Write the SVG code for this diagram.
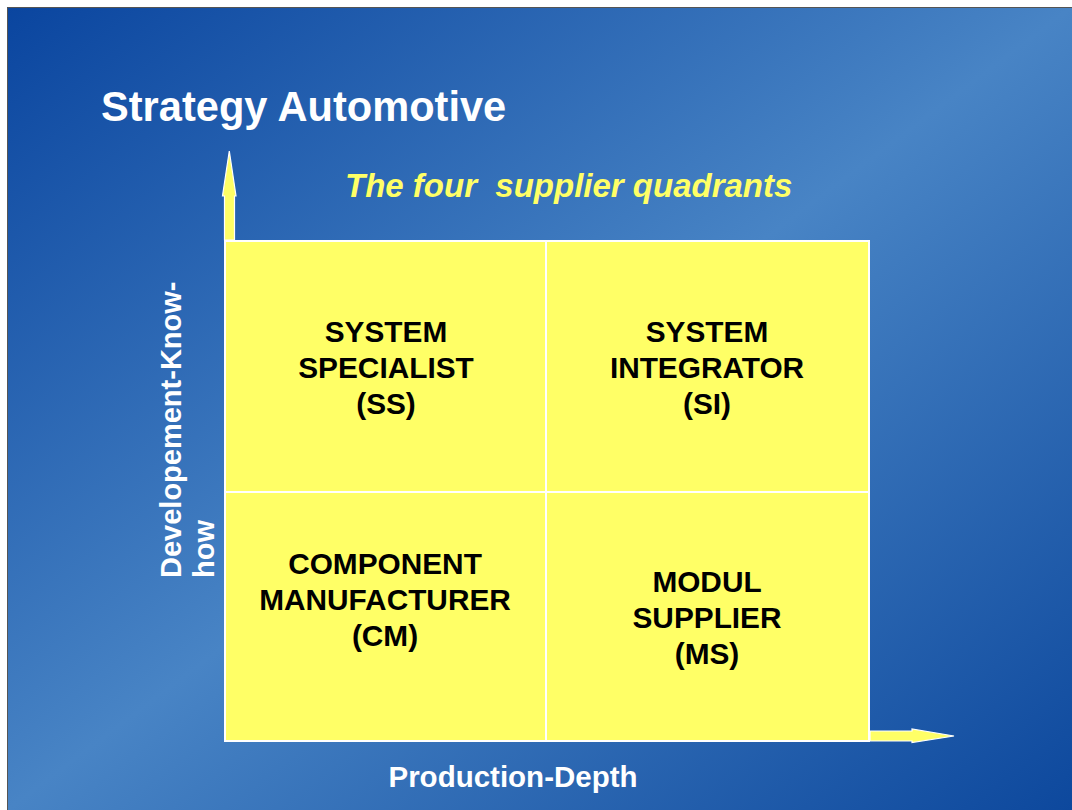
<svg xmlns="http://www.w3.org/2000/svg" width="1072" height="810" viewBox="0 0 1072 810">
  <defs>
    <linearGradient id="bg" x1="0" y1="0" x2="1" y2="1">
      <stop offset="0" stop-color="#0a459f"/>
      <stop offset="0.5" stop-color="#4884c5"/>
      <stop offset="1" stop-color="#0d489d"/>
    </linearGradient>
    <style>
      .quad { fill: #ffff66; stroke: #ffffff; stroke-width: 2; }
      .arrow { fill: #ffff66; stroke: #ffffff; stroke-width: 1.2; stroke-linejoin: miter; }
      .lbl { font-family: "Liberation Sans", Arial, sans-serif; font-weight: bold; font-size: 29.8px; fill: #000000; text-anchor: middle; }
      .axis { font-family: "Liberation Sans", Arial, sans-serif; font-weight: bold; font-size: 29px; fill: #ffffff; }
      .title { font-family: "Liberation Sans", Arial, sans-serif; font-weight: bold; font-size: 41.6px; fill: #ffffff; }
      .sub { font-family: "Liberation Sans", Arial, sans-serif; font-weight: bold; font-style: italic; font-size: 33px; fill: #ffff66; white-space: pre; }
    </style>
  </defs>

  <!-- page -->
  <rect x="0" y="0" width="1072" height="810" fill="#ffffff"/>
  <rect x="7" y="7" width="1065" height="803" fill="url(#bg)"/>
  <path d="M7.5 810 V7.5 H1072" fill="none" stroke="#555555" stroke-width="1"/>

  <text class="title" x="101" y="121">Strategy Automotive</text>
  <text class="sub" x="345" y="197" xml:space="preserve">The four  supplier quadrants</text>

  <!-- axes -->
  <g id="connectors">
    <path class="arrow" d="M224.5 240 V196 H222.5 L229.3 151 L236 196 H234.5 V240 Z"/>
    <path class="arrow" d="M870 731 H912 V729 L954 736 L912 742.5 V741 H870 Z"/>
  </g>

  <!-- quadrants -->
  <g id="ss">
    <rect class="quad" x="225" y="241" width="321" height="251"/>
    <text class="lbl" x="386" y="342">SYSTEM</text>
    <text class="lbl" x="386" y="378">SPECIALIST</text>
    <text class="lbl" x="386" y="414">(SS)</text>
  </g>
  <g id="si">
    <rect class="quad" x="546" y="241" width="323" height="251"/>
    <text class="lbl" x="707" y="342">SYSTEM</text>
    <text class="lbl" x="707" y="378">INTEGRATOR</text>
    <text class="lbl" x="707" y="414">(SI)</text>
  </g>
  <g id="cm">
    <rect class="quad" x="225" y="492" width="321" height="249"/>
    <text class="lbl" x="385" y="574">COMPONENT</text>
    <text class="lbl" x="385" y="610">MANUFACTURER</text>
    <text class="lbl" x="385" y="646">(CM)</text>
  </g>
  <g id="ms">
    <rect class="quad" x="546" y="492" width="323" height="249"/>
    <text class="lbl" x="707" y="592">MODUL</text>
    <text class="lbl" x="707" y="628">SUPPLIER</text>
    <text class="lbl" x="707" y="664">(MS)</text>
  </g>

  <!-- axis labels -->
  <g id="y-label">
    <text class="axis" transform="translate(181,578) rotate(-90)">Developement-Know-</text>
    <text class="axis" transform="translate(214,578) rotate(-90)">how</text>
  </g>
  <g id="x-label">
    <text class="axis" x="513" y="787" text-anchor="middle" style="font-size:29.5px">Production-Depth</text>
  </g>
</svg>
